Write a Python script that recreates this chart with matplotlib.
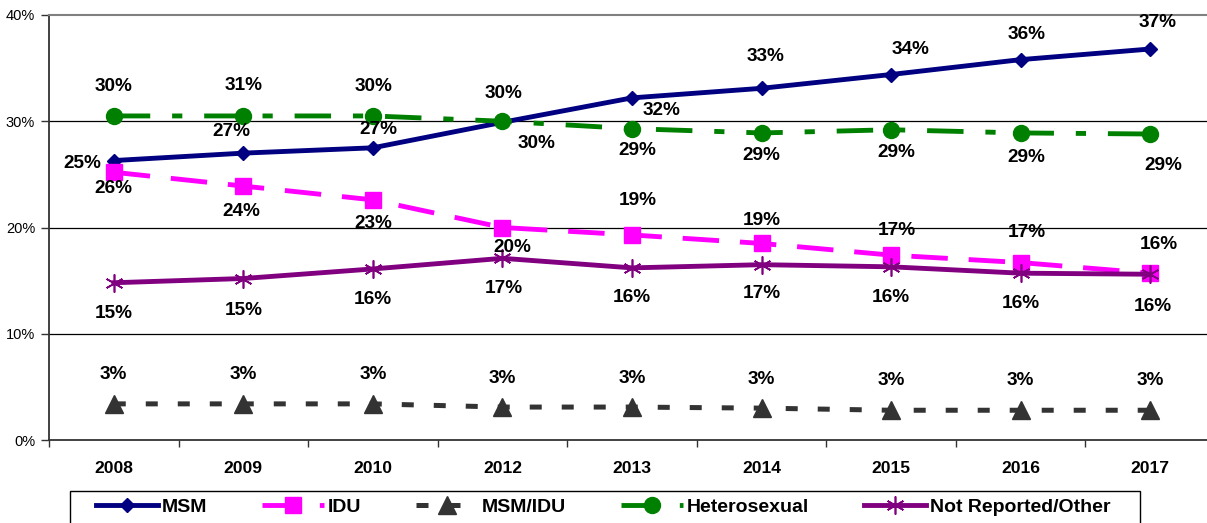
import matplotlib
matplotlib.use("Agg")
import matplotlib.pyplot as plt
from matplotlib.ticker import FixedLocator, PercentFormatter
from matplotlib.patches import Rectangle

plt.rcParams['font.family'] = ['Liberation Sans', 'DejaVu Sans']

# data (percent)
years = ['2008', '2009', '2010', '2012', '2013', '2014', '2015', '2016', '2017']
msm = [26.3, 27.0, 27.5, 29.9, 32.2, 33.1, 34.4, 35.8, 36.8]
idu = [25.2, 23.9, 22.6, 20.0, 19.3, 18.5, 17.4, 16.7, 15.7]
msm_idu = [3.4, 3.4, 3.4, 3.1, 3.1, 3.0, 2.8, 2.8, 2.8]
hetero = [30.5, 30.5, 30.5, 30.0, 29.3, 28.9, 29.2, 28.9, 28.8]
not_rep = [14.8, 15.2, 16.1, 17.1, 16.2, 16.5, 16.3, 15.7, 15.6]

msm_lab = ['26%', '27%', '27%', '30%', '32%', '33%', '34%', '36%', '37%']
idu_lab = ['25%', '24%', '23%', '20%', '19%', '19%', '17%', '17%', '16%']
msm_idu_lab = ['3%'] * 9
hetero_lab = ['30%', '31%', '30%', '30%', '29%', '29%', '29%', '29%', '29%']
not_rep_lab = ['15%', '15%', '16%', '17%', '16%', '17%', '16%', '16%', '16%']

# label offsets in pixels (dx right, dy down)
msm_off = [(0, 28), (-12, -22), (5, -18), (34, 21), (30, 13), (4, -32), (19, -25), (6, -25), (7, -27)]
idu_off = [(-31, -9), (-2, 25), (0, 24), (10, 20), (6, -34), (0, -23), (6, -25), (6, -30), (9, -29)]
mi_off = [(0, -29)] * 6 + [(0, -30)] * 3
het_off = [(0, -29), (0, -30), (1, -29), (1, -28), (5, 22), (0, 23), (5, 23), (6, 25), (13, 31)]
nr_off = [(0, 31), (0, 32), (0, 31), (1, 30), (0, 30), (0, 29), (0, 31), (0, 30), (3, 32)]

W, H = 1207, 523
fig = plt.figure(figsize=(W / 100, H / 100), dpi=100)
ax = fig.add_axes([49 / W, 1 - 440 / H, 1166 / W, 425 / H])

x = list(range(len(years)))

series = [
    (msm, msm_lab, msm_off, dict(color='#000080', lw=3.5, ls='-', marker='D', ms=7, label='MSM')),
    (idu, idu_lab, idu_off, dict(color='#FF00FF', lw=3.5, dashes=(7.5, 4.3), marker='s', ms=12, label='IDU')),
    (msm_idu, msm_idu_lab, mi_off, dict(color='#333333', lw=3.6, dashes=(2.4, 4.0), marker='^', ms=13, label='MSM/IDU')),
    (hetero, hetero_lab, het_off, dict(color='#008000', lw=3.5, dashes=(7.5, 4.5, 2.1, 4.5), marker='o', ms=11.5, label='Heterosexual')),
    (not_rep, not_rep_lab, nr_off, dict(color='#800080', lw=3.5, ls='-', marker=(6, 2, 0), ms=13, mew=1.2, label='Not Reported/Other')),
]

for vals, labs, offs, kw in series:
    ax.plot(x, vals, **kw)
    for xi, v, t, (dx, dy) in zip(x, vals, labs, offs):
        ax.annotate(t, (xi, v), xytext=(dx * 0.72, -dy * 0.72), textcoords='offset points',
                    ha='center', va='center', fontsize=13.7, fontweight='bold', color='black')

ax.set_xlim(-0.5, len(years) - 0.5)
ax.set_ylim(0, 40)
ax.set_yticks([0, 10, 20, 30, 40])
ax.yaxis.set_major_formatter(PercentFormatter(decimals=0))
ax.set_xticks(x)
ax.set_xticklabels(years, fontsize=12.6, fontweight='bold')
ax.xaxis.set_minor_locator(FixedLocator([i - 0.5 for i in range(len(years) + 1)]))
ax.tick_params(axis='x', which='major', length=0, pad=15)
ax.tick_params(axis='x', which='minor', length=5, width=1, color='#333333', direction='out')
ax.tick_params(axis='y', length=6, width=1, color='#333333', labelsize=10.5, pad=4)

for y in [10, 20, 30]:
    ax.axhline(y, color='black', lw=0.9, zorder=0.5)

ax.spines['top'].set_color('#808080')
ax.spines['top'].set_linewidth(1.5)
ax.spines['left'].set_color('#333333')
ax.spines['left'].set_linewidth(1.3)
ax.spines['bottom'].set_color('#333333')
ax.spines['bottom'].set_linewidth(1.3)
ax.spines['right'].set_visible(False)

# legend box (bottom edge runs off the picture)
fig.patches.append(Rectangle((70 / W, -0.05), (1140 - 70) / W, 0.05 + 1 - 491 / H,
                             transform=fig.transFigure, fill=False, edgecolor='black', lw=1.0))
fig.legend(loc='center left', bbox_to_anchor=(96 / W, 1 - 507 / H), ncol=5,
           frameon=False, prop=dict(size=14, weight='bold'), handlelength=3.2,
           handletextpad=0.2, columnspacing=2.8, borderpad=0, borderaxespad=0)

fig.savefig('out.png', dpi=100)
